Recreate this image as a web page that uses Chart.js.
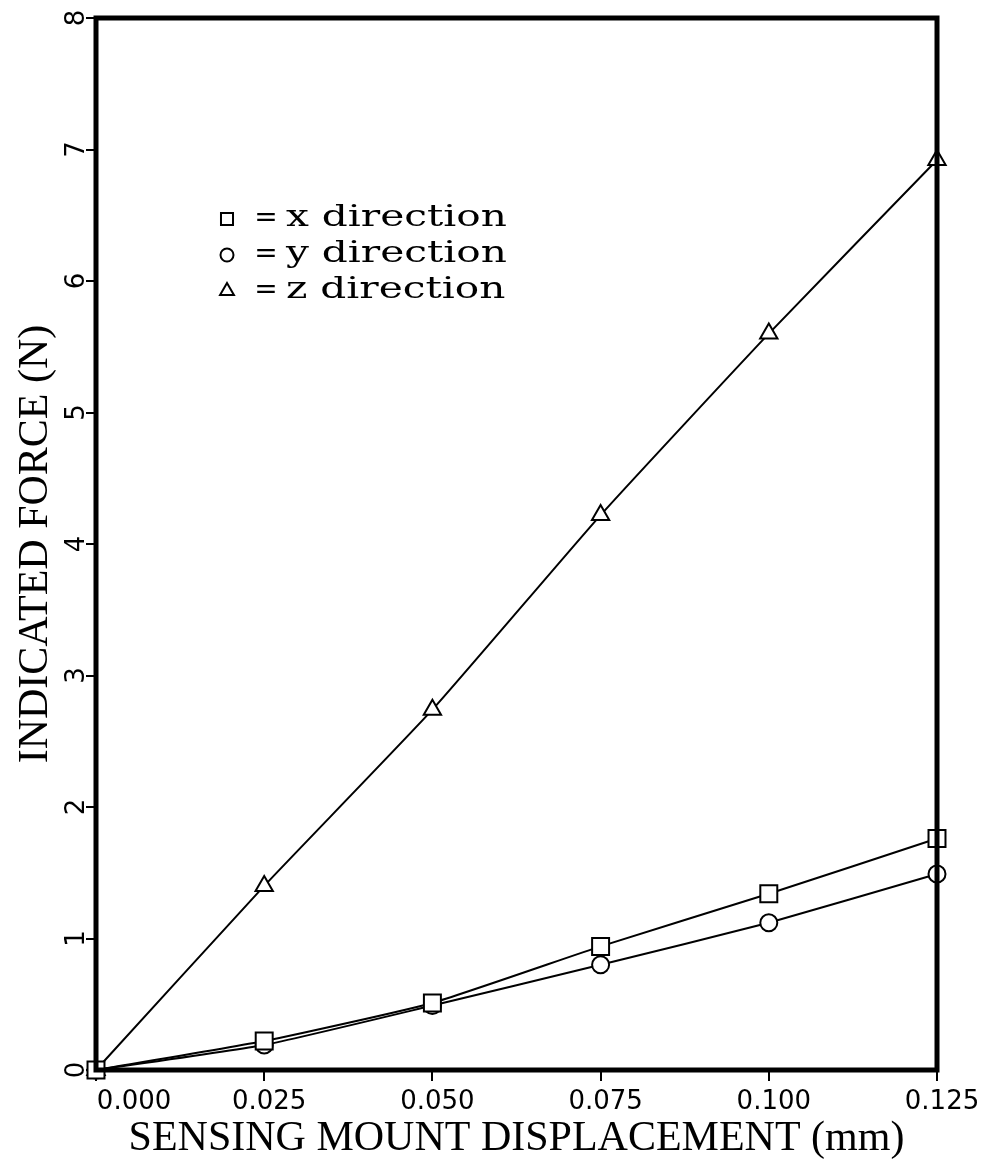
<!DOCTYPE html>
<html>
<head>
<meta charset="utf-8">
<script src="https://cdn.jsdelivr.net/npm/chart.js@4.4.1/dist/chart.umd.min.js"></script>
<style>
    body { margin: 0; background: #fff; }
    canvas { display: block; }
</style>
</head>
<body>
<canvas id="ForceChart" width="986" height="1167"></canvas>
<script>
const displacement = [0, 0.025, 0.050, 0.075, 0.100, 0.125];
const x_direction = [0, 0.22, 0.51, 0.94, 1.34, 1.76];
const y_direction = [0, 0.19, 0.49, 0.80, 1.12, 1.49];
const z_direction = [0, 1.40, 2.74, 4.22, 5.60, 6.92];
const legend_labels = ['x direction', 'y direction', 'z direction'];
const x_title = 'SENSING MOUNT DISPLACEMENT (mm)';
const y_title = 'INDICATED FORCE (N)';

function to_points(values){
    return values.map((v, i) => ({x: displacement[i], y: v}));
}

function make_dataset(label, values, style, radius){
    return {
        label: label,
        data: to_points(values),
        borderColor: '#000',
        borderWidth: 2,
        tension: 0.15,
        fill: false,
        clip: false,
        pointStyle: style,
        pointRadius: radius,
        pointBorderWidth: 2,
        pointBorderColor: '#000',
        pointBackgroundColor: '#fff'
    };
}

const frame_plugin = {
    id: 'frame',
    afterDatasetsDraw(chart){
        const ctx = chart.ctx;
        const a = chart.chartArea;
        ctx.save();
        ctx.strokeStyle = '#000';
        ctx.lineWidth = 5;
        ctx.strokeRect(a.left, a.top, a.right - a.left, a.bottom - a.top);
        ctx.restore();
    }
};

const legend_plugin = {
    id: 'textLegend',
    afterDraw(chart){
        const ctx = chart.ctx;
        const styles = ['rect', 'circle', 'triangle'];
        const radii = [8.5, 6.5, 8];
        ctx.save();
        ctx.textBaseline = 'alphabetic';
        for (let i = 0; i < legend_labels.length; i++) {
            const base = 226 + i * 36;
            ctx.fillStyle = '#fff';
            ctx.strokeStyle = '#000';
            ctx.lineWidth = 2;
            Chart.helpers.drawPoint(ctx, {pointStyle: styles[i], radius: radii[i], borderWidth: 2}, 227, base - 7);
            ctx.fillStyle = '#000';
            ctx.font = '28px "DejaVu Serif"';
            ctx.textAlign = 'center';
            ctx.fillText('=', 266, base);
            // the printed legend uses a very wide face, stretch it sideways
            ctx.save();
            ctx.translate(286, base);
            ctx.scale(1.4, 1);
            ctx.font = '29px "DejaVu Serif"';
            ctx.textAlign = 'left';
            ctx.fillText(legend_labels[i], 0, 0);
            ctx.restore();
        }
        ctx.restore();
    }
};

function plot_force_chart(){
    const ctx = document.getElementById('ForceChart').getContext('2d');
    const tick_font = {family: '"DejaVu Sans"', size: 26};
    const title_font = {family: '"Liberation Serif"', size: 42};
    const chart = new Chart(ctx, {
        type: 'line',
        data: {
            datasets: [
                make_dataset('x direction', x_direction, 'rect', 12),
                make_dataset('y direction', y_direction, 'circle', 8.5),
                make_dataset('z direction', z_direction, 'triangle', 10)
            ]
        },
        options: {
            responsive: false,
            animation: false,
            layout: {padding: {top: 18, right: 49, left: 0, bottom: 0}},
            plugins: {
                legend: {display: false},
                tooltip: {enabled: false}
            },
            scales: {
                x: {
                    type: 'linear',
                    min: 0,
                    max: 0.125,
                    afterFit: scale => { scale.height = 97; },
                    afterBuildTicks: scale => {
                        scale.ticks = displacement.map(v => ({value: v}));
                    },
                    border: {display: false},
                    grid: {drawOnChartArea: false, drawTicks: true, tickLength: 11, color: '#000', lineWidth: 2},
                    ticks: {
                        color: '#000',
                        font: tick_font,
                        padding: 6,
                        labelOffset: 5,
                        maxRotation: 0,
                        autoSkip: false,
                        callback: v => v === 0 ? '        0.000' : v.toFixed(3)
                    },
                    title: {display: true, text: x_title, color: '#000', font: title_font, padding: {top: 0, bottom: 3}}
                },
                y: {
                    min: 0,
                    max: 8,
                    afterFit: scale => { scale.width = 96; },
                    border: {display: false},
                    grid: {drawOnChartArea: false, drawTicks: true, tickLength: 10, color: '#000', lineWidth: 2},
                    ticks: {
                        stepSize: 1,
                        color: '#000',
                        font: tick_font,
                        padding: 0,
                        minRotation: 90,
                        maxRotation: 90,
                        crossAlign: 'center'
                    },
                    title: {display: true, text: y_title, color: '#000', font: title_font, padding: {top: 11, bottom: 0}}
                }
            }
        },
        plugins: [frame_plugin, legend_plugin]
    });
    return chart;
}

plot_force_chart();
</script>
</body>
</html>
